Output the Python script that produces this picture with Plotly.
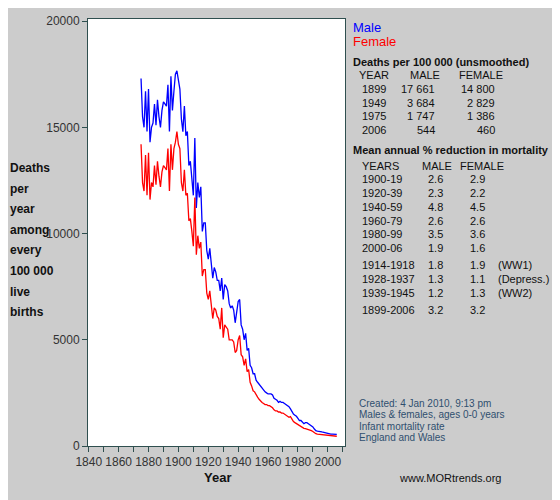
import plotly.graph_objs as go

years = list(range(1875, 2007))

male = [17300, 15500, 15000, 16700, 14800,
        16800, 14300, 15000, 15200, 16100, 15100, 16300, 15500, 15000, 15800,
        16200, 16100, 16000, 17000, 14800, 17400, 15800, 16700, 17500, 17661,
        17200, 16800, 15400, 14800, 16000, 14600, 14800, 13200, 13400, 12500,
        11800, 14500, 11200, 12400, 11700, 12200, 10100, 10500, 10500, 9200,
        8800, 9300, 8500, 7900, 8400, 8200, 7800, 7800, 7300, 7900,
        6900, 7600, 7500, 7300, 6700, 6500, 6600, 6400, 5800, 6200,
        6800, 6900, 5700, 5500, 5000, 5300, 4500, 4600, 3800, 3684,
        3400, 3400, 3100, 3000, 2900, 2800, 2700, 2600, 2550, 2500,
        2450, 2450, 2450, 2400, 2250, 2200, 2150, 2050, 2100, 2050,
        2050, 2000, 1950, 1900, 1850, 1747, 1600, 1500, 1450, 1400,
        1300, 1200, 1200, 1100, 1050, 1100, 1100, 1050, 1000, 950,
        900, 800, 720, 700, 700, 680, 660, 640, 620, 620,
        600, 580, 560, 560, 550, 530, 544]

female = [14200, 12400, 12000, 13700, 11800,
          13800, 11600, 12400, 12200, 13200, 12300, 13400, 12700, 12200, 12900,
          13200, 13100, 13000, 14000, 12000, 14200, 13000, 14000, 14300, 14800,
          14200, 14000, 12400, 12000, 13000, 11800, 11900, 10600, 10700, 10100,
          9400, 11700, 9000, 9900, 9300, 9600, 8000, 8300, 8300, 7200,
          6900, 7300, 6700, 6000, 6500, 6400, 6100, 6000, 5500, 6500,
          5100, 5700, 5600, 5500, 5000, 5000, 5000, 4900, 4400, 4500,
          5000, 5200, 4300, 4200, 3800, 4100, 3500, 3600, 3000, 2829,
          2600, 2550, 2400, 2300, 2200, 2100, 2050, 2000, 1950, 1950,
          1900, 1900, 1850, 1800, 1700, 1650, 1650, 1600, 1600, 1550,
          1550, 1500, 1450, 1400, 1350, 1386, 1250, 1150, 1100, 1050,
          1000, 950, 900, 850, 830, 820, 800, 780, 760, 720,
          680, 620, 580, 560, 550, 540, 530, 520, 510, 500,
          490, 480, 470, 470, 460, 450, 460]

deaths_rows = [["1899", "17 661", "14 800"],
               ["1949", "3 684", "2 829"],
               ["1975", "1 747", "1 386"],
               ["2006", "544", "460"]]

reduction_rows = [["1900-19", "2.6", "2.9", ""],
                  ["1920-39", "2.3", "2.2", ""],
                  ["1940-59", "4.8", "4.5", ""],
                  ["1960-79", "2.6", "2.6", ""],
                  ["1980-99", "3.5", "3.6", ""],
                  ["2000-06", "1.9", "1.6", ""],
                  ["1914-1918", "1.8", "1.9", "(WW1)"],
                  ["1928-1937", "1.3", "1.1", "(Depress.)"],
                  ["1939-1945", "1.2", "1.3", "(WW2)"],
                  ["1899-2006", "3.2", "3.2", ""]]

notes = ["Created: 4 Jan 2010, 9:13 pm",
         "Males & females, ages 0-0 years",
         "Infant mortality rate",
         "England and Wales"]

ylabel = ["Deaths", "per", "year", "among", "every", "100 000", "live", "births"]

# target screen positions; page body adds an 8px offset
OFF = 8
L, R, T, B = 88, 345, 14, 446
FONT = "Liberation Sans, Arial, sans-serif"

def px(x, y):
    return (x - L) / (R - L), (B - y) / (B - T)

ann = []
def text(x, y, s, size=11, color="#111", bold=False, anchor="left"):
    xx, yy = px(x, y)
    ann.append(dict(x=xx, y=yy, xref="paper", yref="paper", text="<b>%s</b>" % s if bold else s,
                    showarrow=False, xanchor=anchor, yanchor="middle",
                    font=dict(family=FONT, size=size, color=color)))

text(351, 23, "Male", 13, "blue")
text(351, 37, "Female", 13, "red")
text(351, 57, "Deaths per 100 000 (unsmoothed)", 11, bold=True)
text(357, 71, "YEAR"); text(408, 71, "MALE"); text(457, 71, "FEMALE")
for i, r in enumerate(deaths_rows):
    y = 85 + i * 13.8
    text(360, y, r[0]); text(437, y, r[1], anchor="right"); text(497, y, r[2], anchor="right")

text(351, 147, "Mean annual % reduction in mortality", 11, bold=True)
text(360, 163, "YEARS"); text(420, 163, "MALE"); text(458, 163, "FEMALE")
ys = [176, 190, 204, 218, 232, 246, 263, 277, 291, 308]
for y, r in zip(ys, reduction_rows):
    text(360, y, r[0]); text(445, y, r[1], anchor="right"); text(487, y, r[2], anchor="right")
    if r[3]:
        text(496, y, r[3])

for i, s in enumerate(notes):
    text(357, 403 + i * 11.5, s, 10, "#2f4f6f")
text(450, 478, "www.MORtrends.org", 11, "#111", anchor="center")

for i, s in enumerate(ylabel):
    text(8, 165 + i * 20.8, s, 12, bold=True)
text(217, 478, "Year", 13, bold=True, anchor="center")

fig = go.Figure()
fig.add_trace(go.Scatter(x=years, y=male, mode="lines", line=dict(color="blue", width=1.3)))
fig.add_trace(go.Scatter(x=years, y=female, mode="lines", line=dict(color="red", width=1.3)))

axis = dict(showgrid=False, zeroline=False, showline=True, linecolor="#2f4f4f", mirror=True,
            ticks="outside", tickcolor="#2f4f4f", ticklen=5,
            tickfont=dict(family=FONT, size=12, color="#333"))
fig.update_layout(
    width=560, height=500, showlegend=False,
    margin=dict(l=L - OFF, r=560 - R + OFF, t=T - OFF, b=500 - B + OFF),
    paper_bgcolor="#cccccc", plot_bgcolor="white",
    xaxis=dict(axis, range=[1839.5, 2011.5], tickvals=list(range(1840, 2001, 20)),
               minor=dict(tickvals=list(range(1850, 2011, 20)), ticks="outside", ticklen=5, tickcolor="#2f4f4f")),
    yaxis=dict(axis, range=[0, 20100], tickvals=[0, 5000, 10000, 15000, 20000],
               ticktext=["0", "5000", "10000", "15000", "20000"]),
    annotations=ann,
)
fig.write_html("out.html")
